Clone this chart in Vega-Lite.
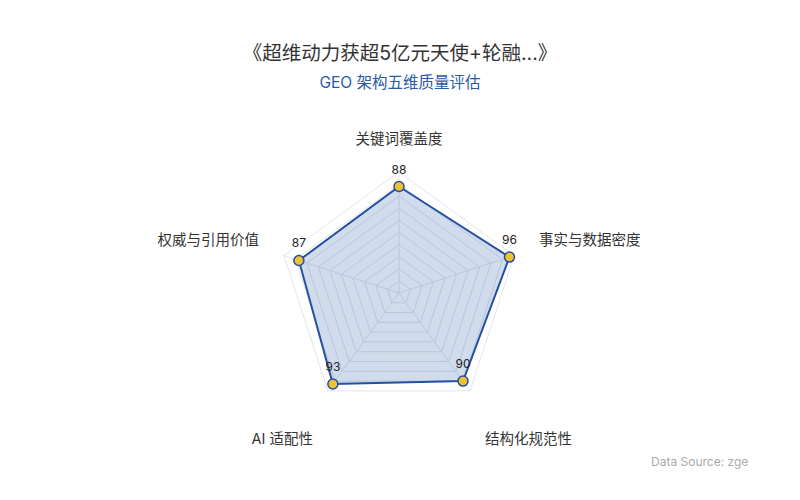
{
  "$schema": "https://vega.github.io/schema/vega-lite/v6.json",
  "autosize": {"type": "none"},
  "width": 800,
  "height": 400,
  "padding": {"top": 100, "left": 0, "right": 0, "bottom": 0},
  "background": "white",
  "config": {
    "view": {"stroke": null},
    "font": "Inter, 'Noto Sans CJK SC', sans-serif"
  },
  "title": {
    "text": "《超维动力获超5亿元天使+轮融...》",
    "subtitle": "GEO 架构五维质量评估",
    "anchor": "middle",
    "fontSize": 19.5,
    "fontWeight": "normal",
    "color": "#333333",
    "subtitleFontSize": 15.5,
    "subtitleColor": "#2a5aa8",
    "subtitlePadding": 11,
    "offset": 8,
    "font": "Inter, 'Noto Sans CJK SC', sans-serif",
    "subtitleFont": "Inter, 'Noto Sans CJK SC', sans-serif"
  },
  "datasets": {
    "dims": [
      {"dim": "关键词覆盖度", "idx": 0, "score": 88},
      {"dim": "事实与数据密度", "idx": 1, "score": 96},
      {"dim": "结构化规范性", "idx": 2, "score": 90},
      {"dim": "AI 适配性", "idx": 3, "score": 93},
      {"dim": "权威与引用价值", "idx": 4, "score": 87}
    ],
    "rings": [
      {"level": 10, "k": [0, 1, 2, 3, 4]},
      {"level": 20, "k": [0, 1, 2, 3, 4]},
      {"level": 30, "k": [0, 1, 2, 3, 4]},
      {"level": 40, "k": [0, 1, 2, 3, 4]},
      {"level": 50, "k": [0, 1, 2, 3, 4]},
      {"level": 60, "k": [0, 1, 2, 3, 4]},
      {"level": 70, "k": [0, 1, 2, 3, 4]},
      {"level": 80, "k": [0, 1, 2, 3, 4]},
      {"level": 90, "k": [0, 1, 2, 3, 4]},
      {"level": 100, "k": [0, 1, 2, 3, 4]}
    ],
    "source": [{"note": "Data Source: zge"}]
  },
  "encoding": {
    "x": {"field": "px", "type": "quantitative", "axis": null,
          "scale": {"domain": [-329.75, 331.4], "nice": false, "zero": false}},
    "y": {"field": "py", "type": "quantitative", "axis": null,
          "scale": {"domain": [-171.07, 159.5], "nice": false, "zero": false}}
  },
  "layer": [
    {
      "data": {"name": "rings"},
      "transform": [
        {"flatten": ["k"]},
        {"calculate": "datum.k * 2 * PI / 5", "as": "a"},
        {"calculate": "datum.level * sin(datum.a)", "as": "px"},
        {"calculate": "datum.level * cos(datum.a)", "as": "py"}
      ],
      "mark": {"type": "line", "interpolate": "linear-closed", "stroke": "#e1e5ec", "strokeWidth": 1},
      "encoding": {
        "detail": {"field": "level", "type": "nominal"},
        "order": {"field": "k", "type": "quantitative"}
      }
    },
    {
      "data": {"name": "dims"},
      "transform": [
        {"calculate": "datum.idx * 2 * PI / 5", "as": "a"},
        {"calculate": "100 * sin(datum.a)", "as": "px"},
        {"calculate": "100 * cos(datum.a)", "as": "py"}
      ],
      "mark": {"type": "rule", "stroke": "#e1e5ec", "strokeWidth": 1},
      "encoding": {
        "x2": {"datum": 0},
        "y2": {"datum": 0}
      }
    },
    {
      "data": {"name": "dims"},
      "transform": [
        {"calculate": "datum.idx * 2 * PI / 5", "as": "a"},
        {"calculate": "datum.score * sin(datum.a)", "as": "px"},
        {"calculate": "datum.score * cos(datum.a)", "as": "py"}
      ],
      "layer": [
        {
          "mark": {"type": "line", "interpolate": "linear-closed", "fill": "#2a5caa", "fillOpacity": 0.22,
                   "stroke": "#2350a2", "strokeWidth": 2},
          "encoding": {"order": {"field": "idx", "type": "quantitative"}}
        },
        {
          "mark": {"type": "point", "shape": "circle", "filled": true, "size": 100,
                   "fill": "#f2c12e", "stroke": "#2350a2", "strokeWidth": 1.5, "opacity": 1},
          "encoding": {}
        },
        {
          "mark": {"type": "text", "dy": -17, "fontSize": 12, "color": "#222222"},
          "encoding": {"text": {"field": "score", "type": "quantitative"}}
        }
      ]
    },
    {
      "data": {"name": "dims"},
      "transform": [
        {"calculate": "datum.idx == 0 ? 0 : datum.idx == 1 ? 115.7 : datum.idx == 2 ? 71.1 : datum.idx == 3 ? -71.1 : -115.7", "as": "px"},
        {"calculate": "datum.idx == 0 ? 126.4 : datum.idx == 1 || datum.idx == 4 ? 43 : -121.5", "as": "py"}
      ],
      "layer": [
        {
          "transform": [{"filter": "datum.idx == 0"}],
          "mark": {"type": "text", "align": "center", "baseline": "middle", "fontSize": 14.5, "color": "#333333"},
          "encoding": {"text": {"field": "dim", "type": "nominal"}}
        },
        {
          "transform": [{"filter": "datum.idx == 1 || datum.idx == 2"}],
          "mark": {"type": "text", "align": "left", "baseline": "middle", "fontSize": 14.5, "color": "#333333"},
          "encoding": {"text": {"field": "dim", "type": "nominal"}}
        },
        {
          "transform": [{"filter": "datum.idx == 3 || datum.idx == 4"}],
          "mark": {"type": "text", "align": "right", "baseline": "middle", "fontSize": 14.5, "color": "#333333"},
          "encoding": {"text": {"field": "dim", "type": "nominal"}}
        }
      ]
    },
    {
      "data": {"name": "source"},
      "transform": [
        {"calculate": "208.3", "as": "px"},
        {"calculate": "-139.7", "as": "py"}
      ],
      "mark": {"type": "text", "align": "left", "baseline": "middle", "fontSize": 12, "color": "#aaaaaa"},
      "encoding": {
        "text": {"field": "note", "type": "nominal"}
      }
    }
  ]
}
